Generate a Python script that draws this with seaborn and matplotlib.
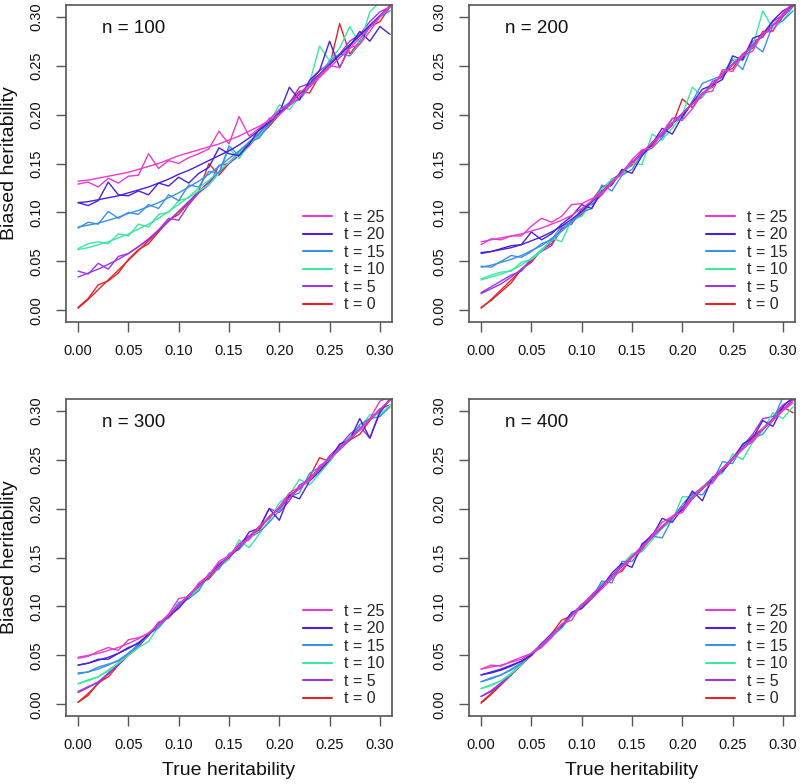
import matplotlib
matplotlib.use("Agg")
import matplotlib.pyplot as plt
from matplotlib.lines import Line2D
import seaborn as sns
import pandas as pd

sns.set_style("ticks")
plt.rcParams["font.family"] = ["Liberation Sans", "DejaVu Sans"]

# ---------------- data ----------------
x_true = [0.00, 0.01, 0.02, 0.03, 0.04, 0.05, 0.06, 0.07, 0.08, 0.09,
          0.10, 0.11, 0.12, 0.13, 0.14, 0.15, 0.16, 0.17, 0.18, 0.19,
          0.20, 0.21, 0.22, 0.23, 0.24, 0.25, 0.26, 0.27, 0.28, 0.29,
          0.30, 0.31]
t_values = [25, 20, 15, 10, 5, 0]
n_values = [100, 200, 300, 400]
t_colors = {25: "#E83ACB", 20: "#4B1FD6", 15: "#3A8FE8",
            10: "#3BE8A0", 5: "#9B35E6", 0: "#E0262B"}
tick_vals = [0.00, 0.05, 0.10, 0.15, 0.20, 0.25, 0.30]
tick_labels = ["0.00", "0.05", "0.10", "0.15", "0.20", "0.25", "0.30"]

# smooth (expected) curves
smooth_t0 = [0.002, 0.011, 0.021, 0.031, 0.041, 0.051, 0.061, 0.071, 0.081, 0.091,
             0.101, 0.111, 0.121, 0.131, 0.141, 0.151, 0.161, 0.171, 0.181, 0.191,
             0.201, 0.211, 0.221, 0.231, 0.241, 0.251, 0.261, 0.271, 0.281, 0.291, 0.301, 0.311]

smooth_n100_t25 = [0.132, 0.133, 0.135, 0.137, 0.139, 0.141, 0.144, 0.147, 0.150, 0.154,
                   0.158, 0.161, 0.164, 0.167, 0.170, 0.174, 0.178, 0.183, 0.188, 0.194,
                   0.200, 0.209, 0.218, 0.228, 0.238, 0.248, 0.258, 0.268, 0.278, 0.289, 0.300, 0.310]
smooth_n100_t20 = [0.110, 0.111, 0.113, 0.115, 0.117, 0.120, 0.123, 0.126, 0.130, 0.134,
                   0.139, 0.143, 0.148, 0.153, 0.158, 0.163, 0.169, 0.176, 0.184, 0.192,
                   0.201, 0.211, 0.221, 0.231, 0.241, 0.251, 0.261, 0.271, 0.281, 0.291, 0.301, 0.311]
smooth_n100_t15 = [0.085, 0.087, 0.089, 0.092, 0.095, 0.099, 0.102, 0.106, 0.110, 0.115,
                   0.120, 0.126, 0.132, 0.139, 0.147, 0.155, 0.163, 0.172, 0.181, 0.191,
                   0.201, 0.211, 0.221, 0.231, 0.241, 0.251, 0.261, 0.271, 0.281, 0.291, 0.301, 0.311]
smooth_n100_t10 = [0.062, 0.064, 0.067, 0.070, 0.074, 0.078, 0.083, 0.088, 0.094, 0.101,
                   0.108, 0.116, 0.125, 0.133, 0.142, 0.151, 0.161, 0.171, 0.181, 0.191,
                   0.201, 0.211, 0.221, 0.231, 0.241, 0.251, 0.261, 0.271, 0.281, 0.291, 0.301, 0.311]
smooth_n100_t5 = [0.034, 0.038, 0.042, 0.047, 0.052, 0.058, 0.065, 0.073, 0.082, 0.091,
                  0.101, 0.111, 0.121, 0.131, 0.141, 0.151, 0.161, 0.171, 0.181, 0.191,
                  0.201, 0.211, 0.221, 0.231, 0.241, 0.251, 0.261, 0.271, 0.281, 0.291, 0.301, 0.311]

smooth_n200_t25 = [0.070, 0.072, 0.074, 0.076, 0.078, 0.081, 0.084, 0.088, 0.092, 0.097,
                   0.104, 0.112, 0.121, 0.131, 0.141, 0.151, 0.161, 0.171, 0.181, 0.191,
                   0.201, 0.211, 0.221, 0.231, 0.241, 0.251, 0.261, 0.271, 0.281, 0.291, 0.301, 0.311]
smooth_n200_t20 = [0.058, 0.060, 0.062, 0.064, 0.067, 0.071, 0.075, 0.080, 0.086, 0.093,
                   0.101, 0.111, 0.121, 0.131, 0.141, 0.151, 0.161, 0.171, 0.181, 0.191,
                   0.201, 0.211, 0.221, 0.231, 0.241, 0.251, 0.261, 0.271, 0.281, 0.291, 0.301, 0.311]
smooth_n200_t15 = [0.044, 0.046, 0.049, 0.052, 0.056, 0.061, 0.066, 0.073, 0.081, 0.091,
                   0.101, 0.111, 0.121, 0.131, 0.141, 0.151, 0.161, 0.171, 0.181, 0.191,
                   0.201, 0.211, 0.221, 0.231, 0.241, 0.251, 0.261, 0.271, 0.281, 0.291, 0.301, 0.311]
smooth_n200_t10 = [0.031, 0.034, 0.037, 0.041, 0.046, 0.053, 0.062, 0.071, 0.081, 0.091,
                   0.101, 0.111, 0.121, 0.131, 0.141, 0.151, 0.161, 0.171, 0.181, 0.191,
                   0.201, 0.211, 0.221, 0.231, 0.241, 0.251, 0.261, 0.271, 0.281, 0.291, 0.301, 0.311]
smooth_n200_t5 = [0.017, 0.022, 0.027, 0.034, 0.042, 0.051, 0.061, 0.071, 0.081, 0.091,
                  0.101, 0.111, 0.121, 0.131, 0.141, 0.151, 0.161, 0.171, 0.181, 0.191,
                  0.201, 0.211, 0.221, 0.231, 0.241, 0.251, 0.261, 0.271, 0.281, 0.291, 0.301, 0.311]

smooth_n300_t25 = [0.048, 0.050, 0.052, 0.055, 0.058, 0.062, 0.067, 0.073, 0.081, 0.091,
                   0.101, 0.111, 0.121, 0.131, 0.141, 0.151, 0.161, 0.171, 0.181, 0.191,
                   0.201, 0.211, 0.221, 0.231, 0.241, 0.251, 0.261, 0.271, 0.281, 0.291, 0.301, 0.311]
smooth_n300_t20 = [0.040, 0.042, 0.045, 0.048, 0.052, 0.057, 0.063, 0.071, 0.081, 0.091,
                   0.101, 0.111, 0.121, 0.131, 0.141, 0.151, 0.161, 0.171, 0.181, 0.191,
                   0.201, 0.211, 0.221, 0.231, 0.241, 0.251, 0.261, 0.271, 0.281, 0.291, 0.301, 0.311]
smooth_n300_t15 = [0.031, 0.033, 0.036, 0.040, 0.045, 0.052, 0.061, 0.071, 0.081, 0.091,
                   0.101, 0.111, 0.121, 0.131, 0.141, 0.151, 0.161, 0.171, 0.181, 0.191,
                   0.201, 0.211, 0.221, 0.231, 0.241, 0.251, 0.261, 0.271, 0.281, 0.291, 0.301, 0.311]
smooth_n300_t10 = [0.021, 0.024, 0.028, 0.034, 0.042, 0.051, 0.061, 0.071, 0.081, 0.091,
                   0.101, 0.111, 0.121, 0.131, 0.141, 0.151, 0.161, 0.171, 0.181, 0.191,
                   0.201, 0.211, 0.221, 0.231, 0.241, 0.251, 0.261, 0.271, 0.281, 0.291, 0.301, 0.311]
smooth_n300_t5 = [0.012, 0.017, 0.023, 0.031, 0.041, 0.051, 0.061, 0.071, 0.081, 0.091,
                  0.101, 0.111, 0.121, 0.131, 0.141, 0.151, 0.161, 0.171, 0.181, 0.191,
                  0.201, 0.211, 0.221, 0.231, 0.241, 0.251, 0.261, 0.271, 0.281, 0.291, 0.301, 0.311]

smooth_n400_t25 = [0.036, 0.038, 0.040, 0.043, 0.046, 0.052, 0.061, 0.071, 0.081, 0.091,
                   0.101, 0.111, 0.121, 0.131, 0.141, 0.151, 0.161, 0.171, 0.181, 0.191,
                   0.201, 0.211, 0.221, 0.231, 0.241, 0.251, 0.261, 0.271, 0.281, 0.291, 0.301, 0.311]
smooth_n400_t20 = [0.030, 0.032, 0.035, 0.039, 0.044, 0.051, 0.061, 0.071, 0.081, 0.091,
                   0.101, 0.111, 0.121, 0.131, 0.141, 0.151, 0.161, 0.171, 0.181, 0.191,
                   0.201, 0.211, 0.221, 0.231, 0.241, 0.251, 0.261, 0.271, 0.281, 0.291, 0.301, 0.311]
smooth_n400_t15 = [0.023, 0.026, 0.030, 0.035, 0.042, 0.051, 0.061, 0.071, 0.081, 0.091,
                   0.101, 0.111, 0.121, 0.131, 0.141, 0.151, 0.161, 0.171, 0.181, 0.191,
                   0.201, 0.211, 0.221, 0.231, 0.241, 0.251, 0.261, 0.271, 0.281, 0.291, 0.301, 0.311]
smooth_n400_t10 = [0.016, 0.019, 0.024, 0.031, 0.041, 0.051, 0.061, 0.071, 0.081, 0.091,
                   0.101, 0.111, 0.121, 0.131, 0.141, 0.151, 0.161, 0.171, 0.181, 0.191,
                   0.201, 0.211, 0.221, 0.231, 0.241, 0.251, 0.261, 0.271, 0.281, 0.291, 0.301, 0.311]
smooth_n400_t5 = [0.008, 0.013, 0.021, 0.031, 0.041, 0.051, 0.061, 0.071, 0.081, 0.091,
                  0.101, 0.111, 0.121, 0.131, 0.141, 0.151, 0.161, 0.171, 0.181, 0.191,
                  0.201, 0.211, 0.221, 0.231, 0.241, 0.251, 0.261, 0.271, 0.281, 0.291, 0.301, 0.311]

# simulated (noisy) estimates
sim_n100_t0 = [0.003, 0.012, 0.026, 0.030, 0.038, 0.052, 0.062, 0.068, 0.080, 0.092,
               0.098, 0.110, 0.122, 0.150, 0.138, 0.150, 0.162, 0.170, 0.178, 0.188,
               0.200, 0.212, 0.224, 0.222, 0.240, 0.250, 0.293, 0.262, 0.275, 0.290, 0.295, 0.310]
sim_n100_t5 = [0.040, 0.037, 0.048, 0.042, 0.055, 0.058, 0.065, 0.072, 0.082, 0.094,
               0.092, 0.108, 0.120, 0.128, 0.148, 0.150, 0.158, 0.168, 0.180, 0.196,
               0.200, 0.212, 0.228, 0.232, 0.245, 0.252, 0.262, 0.275, 0.282, 0.295, 0.305, 0.310]
sim_n100_t10 = [0.063, 0.068, 0.070, 0.068, 0.078, 0.076, 0.088, 0.085, 0.098, 0.100,
                0.112, 0.115, 0.122, 0.128, 0.140, 0.165, 0.155, 0.170, 0.178, 0.192,
                0.210, 0.205, 0.218, 0.232, 0.270, 0.255, 0.268, 0.290, 0.272, 0.305, 0.315, 0.312]
sim_n100_t15 = [0.084, 0.090, 0.088, 0.101, 0.094, 0.100, 0.098, 0.108, 0.104, 0.118,
                0.112, 0.128, 0.126, 0.142, 0.140, 0.168, 0.158, 0.172, 0.176, 0.190,
                0.205, 0.212, 0.215, 0.228, 0.240, 0.255, 0.262, 0.260, 0.272, 0.290, 0.300, 0.306]
sim_n100_t20 = [0.110, 0.107, 0.112, 0.131, 0.118, 0.117, 0.122, 0.118, 0.130, 0.127,
                0.136, 0.130, 0.140, 0.146, 0.166, 0.160, 0.158, 0.170, 0.185, 0.192,
                0.202, 0.228, 0.215, 0.235, 0.245, 0.275, 0.248, 0.270, 0.285, 0.275, 0.290, 0.282]
sim_n100_t25 = [0.129, 0.131, 0.126, 0.135, 0.130, 0.137, 0.138, 0.160, 0.145, 0.153,
                0.150, 0.156, 0.160, 0.165, 0.183, 0.170, 0.198, 0.178, 0.186, 0.195,
                0.205, 0.210, 0.222, 0.230, 0.240, 0.250, 0.248, 0.268, 0.272, 0.285, 0.300, 0.312]

sim_n200_t0 = [0.003, 0.010, 0.019, 0.028, 0.042, 0.049, 0.062, 0.068, 0.082, 0.090,
               0.098, 0.112, 0.126, 0.129, 0.142, 0.148, 0.163, 0.168, 0.180, 0.189,
               0.216, 0.207, 0.222, 0.228, 0.244, 0.247, 0.262, 0.268, 0.285, 0.286, 0.300, 0.312]
sim_n200_t5 = [0.018, 0.024, 0.030, 0.036, 0.040, 0.053, 0.060, 0.066, 0.084, 0.088,
               0.104, 0.108, 0.118, 0.134, 0.140, 0.152, 0.158, 0.172, 0.178, 0.196,
               0.198, 0.212, 0.218, 0.234, 0.238, 0.252, 0.258, 0.275, 0.279, 0.295, 0.302, 0.313]
sim_n200_t10 = [0.032, 0.036, 0.039, 0.040, 0.049, 0.052, 0.060, 0.074, 0.070, 0.092,
                0.096, 0.110, 0.124, 0.134, 0.138, 0.150, 0.149, 0.180, 0.174, 0.186,
                0.200, 0.228, 0.218, 0.230, 0.242, 0.257, 0.255, 0.270, 0.306, 0.288, 0.296, 0.310]
sim_n200_t15 = [0.045, 0.044, 0.050, 0.056, 0.054, 0.060, 0.068, 0.072, 0.086, 0.090,
                0.100, 0.104, 0.128, 0.122, 0.138, 0.144, 0.160, 0.166, 0.176, 0.192,
                0.196, 0.214, 0.232, 0.236, 0.240, 0.256, 0.246, 0.272, 0.264, 0.292, 0.296, 0.306]
sim_n200_t20 = [0.059, 0.060, 0.063, 0.066, 0.067, 0.080, 0.072, 0.078, 0.088, 0.096,
                0.108, 0.104, 0.122, 0.128, 0.144, 0.140, 0.158, 0.170, 0.186, 0.180,
                0.198, 0.212, 0.226, 0.230, 0.236, 0.260, 0.256, 0.278, 0.282, 0.296, 0.306, 0.312]
sim_n200_t25 = [0.067, 0.073, 0.072, 0.076, 0.076, 0.086, 0.094, 0.090, 0.096, 0.108,
                0.109, 0.114, 0.118, 0.130, 0.140, 0.154, 0.164, 0.166, 0.182, 0.196,
                0.194, 0.206, 0.222, 0.224, 0.246, 0.244, 0.260, 0.265, 0.284, 0.285, 0.304, 0.314]

sim_n300_t0 = [0.002, 0.009, 0.022, 0.028, 0.040, 0.050, 0.058, 0.072, 0.080, 0.092,
               0.100, 0.111, 0.122, 0.128, 0.140, 0.152, 0.160, 0.172, 0.178, 0.192,
               0.200, 0.214, 0.220, 0.232, 0.252, 0.248, 0.262, 0.270, 0.276, 0.290, 0.302, 0.306]
sim_n300_t5 = [0.013, 0.018, 0.022, 0.032, 0.040, 0.052, 0.060, 0.070, 0.084, 0.088,
               0.100, 0.112, 0.120, 0.132, 0.144, 0.150, 0.164, 0.172, 0.180, 0.200,
               0.196, 0.208, 0.224, 0.230, 0.240, 0.254, 0.264, 0.276, 0.284, 0.272, 0.300, 0.312]
sim_n300_t10 = [0.021, 0.025, 0.028, 0.035, 0.042, 0.050, 0.058, 0.064, 0.080, 0.092,
                0.102, 0.108, 0.118, 0.130, 0.140, 0.148, 0.168, 0.160, 0.174, 0.188,
                0.206, 0.214, 0.230, 0.224, 0.236, 0.248, 0.262, 0.274, 0.282, 0.296, 0.296, 0.306]
sim_n300_t15 = [0.032, 0.033, 0.038, 0.041, 0.044, 0.052, 0.060, 0.072, 0.078, 0.090,
                0.104, 0.108, 0.116, 0.134, 0.138, 0.154, 0.158, 0.170, 0.176, 0.186,
                0.198, 0.212, 0.216, 0.236, 0.242, 0.252, 0.260, 0.270, 0.286, 0.292, 0.294, 0.304]
sim_n300_t20 = [0.040, 0.042, 0.046, 0.046, 0.052, 0.058, 0.062, 0.072, 0.082, 0.090,
                0.098, 0.110, 0.122, 0.130, 0.142, 0.150, 0.160, 0.176, 0.180, 0.200,
                0.188, 0.214, 0.210, 0.228, 0.238, 0.250, 0.266, 0.270, 0.292, 0.272, 0.298, 0.312]
sim_n300_t25 = [0.047, 0.049, 0.054, 0.058, 0.055, 0.066, 0.068, 0.072, 0.082, 0.092,
                0.108, 0.110, 0.124, 0.132, 0.146, 0.152, 0.164, 0.168, 0.182, 0.190,
                0.202, 0.216, 0.222, 0.228, 0.244, 0.250, 0.262, 0.272, 0.280, 0.292, 0.310, 0.314]

sim_n400_t0 = [0.001, 0.010, 0.020, 0.030, 0.040, 0.050, 0.060, 0.072, 0.086, 0.090,
               0.102, 0.110, 0.120, 0.132, 0.136, 0.150, 0.160, 0.170, 0.182, 0.190,
               0.200, 0.210, 0.220, 0.230, 0.240, 0.252, 0.262, 0.274, 0.282, 0.292, 0.304, 0.298]
sim_n400_t5 = [0.008, 0.014, 0.022, 0.030, 0.042, 0.050, 0.062, 0.070, 0.080, 0.092,
               0.098, 0.112, 0.122, 0.130, 0.142, 0.150, 0.162, 0.174, 0.180, 0.192,
               0.198, 0.214, 0.222, 0.228, 0.240, 0.252, 0.264, 0.276, 0.292, 0.294, 0.306, 0.312]
sim_n400_t10 = [0.016, 0.020, 0.024, 0.032, 0.040, 0.052, 0.062, 0.068, 0.078, 0.090,
                0.100, 0.110, 0.124, 0.128, 0.142, 0.154, 0.156, 0.168, 0.180, 0.188,
                0.212, 0.212, 0.222, 0.232, 0.236, 0.256, 0.250, 0.268, 0.280, 0.298, 0.292, 0.304]
sim_n400_t15 = [0.023, 0.027, 0.030, 0.036, 0.042, 0.052, 0.058, 0.070, 0.078, 0.092,
                0.102, 0.108, 0.126, 0.124, 0.146, 0.146, 0.158, 0.172, 0.170, 0.190,
                0.204, 0.216, 0.214, 0.228, 0.248, 0.246, 0.264, 0.272, 0.276, 0.290, 0.314, 0.312]
sim_n400_t20 = [0.030, 0.033, 0.036, 0.040, 0.044, 0.050, 0.062, 0.072, 0.080, 0.094,
                0.098, 0.108, 0.120, 0.134, 0.144, 0.140, 0.164, 0.172, 0.190, 0.186,
                0.200, 0.218, 0.208, 0.232, 0.238, 0.250, 0.266, 0.272, 0.290, 0.284, 0.304, 0.314]
sim_n400_t25 = [0.036, 0.040, 0.039, 0.044, 0.048, 0.052, 0.058, 0.068, 0.082, 0.086,
                0.102, 0.108, 0.118, 0.128, 0.138, 0.150, 0.158, 0.172, 0.186, 0.192,
                0.196, 0.210, 0.222, 0.226, 0.240, 0.250, 0.262, 0.268, 0.282, 0.290, 0.300, 0.308]

sim = {
    100: {0: sim_n100_t0, 5: sim_n100_t5, 10: sim_n100_t10, 15: sim_n100_t15, 20: sim_n100_t20, 25: sim_n100_t25},
    200: {0: sim_n200_t0, 5: sim_n200_t5, 10: sim_n200_t10, 15: sim_n200_t15, 20: sim_n200_t20, 25: sim_n200_t25},
    300: {0: sim_n300_t0, 5: sim_n300_t5, 10: sim_n300_t10, 15: sim_n300_t15, 20: sim_n300_t20, 25: sim_n300_t25},
    400: {0: sim_n400_t0, 5: sim_n400_t5, 10: sim_n400_t10, 15: sim_n400_t15, 20: sim_n400_t20, 25: sim_n400_t25},
}
smooth = {
    100: {0: smooth_t0, 5: smooth_n100_t5, 10: smooth_n100_t10, 15: smooth_n100_t15, 20: smooth_n100_t20, 25: smooth_n100_t25},
    200: {0: smooth_t0, 5: smooth_n200_t5, 10: smooth_n200_t10, 15: smooth_n200_t15, 20: smooth_n200_t20, 25: smooth_n200_t25},
    300: {0: smooth_t0, 5: smooth_n300_t5, 10: smooth_n300_t10, 15: smooth_n300_t15, 20: smooth_n300_t20, 25: smooth_n300_t25},
    400: {0: smooth_t0, 5: smooth_n400_t5, 10: smooth_n400_t10, 15: smooth_n400_t15, 20: smooth_n400_t20, 25: smooth_n400_t25},
}

for n in n_values:
    for t in t_values:
        assert len(sim[n][t]) == len(x_true), (n, t, len(sim[n][t]))
        assert len(smooth[n][t]) == len(x_true), (n, t, len(smooth[n][t]))

# ---------------- figure ----------------
W, H = 800, 784
fig = plt.figure(figsize=(W / 100, H / 100), dpi=100)
panel_px = {100: (66, 5), 200: (469, 5), 300: (66, 399), 400: (469, 399)}
pw, ph = 326, 317

for n in n_values:
    lx, ty = panel_px[n]
    ax = fig.add_axes([lx / W, 1 - (ty + ph) / H, pw / W, ph / H])
    rows = []
    for t in [0, 5, 10, 15, 20, 25]:
        for xv, yv in zip(x_true, sim[n][t]):
            rows.append({"x": xv, "y": yv, "t": t, "kind": "sim"})
        for xv, yv in zip(x_true, smooth[n][t]):
            rows.append({"x": xv, "y": yv, "t": t, "kind": "smooth"})
    df = pd.DataFrame(rows)
    for t in [0, 5, 10, 15, 20, 25]:
        for kind in ["sim", "smooth"]:
            d = df[(df.t == t) & (df.kind == kind)]
            sns.lineplot(data=d, x="x", y="y", color=t_colors[t], lw=1.0,
                         ax=ax, legend=False, sort=False, estimator=None)

    ax.set_xlim(-0.012, 0.312)
    ax.set_ylim(-0.012, 0.312)
    ax.set_xticks(tick_vals)
    ax.set_xticklabels(tick_labels)
    ax.set_yticks(tick_vals)
    ax.set_yticklabels(tick_labels, rotation=90, va="center")
    ax.tick_params(axis="both", direction="out", length=7, width=1.0,
                   color="#555555", labelsize=10.5, labelcolor="#111111", pad=9)
    for sp in ax.spines.values():
        sp.set_visible(True)
        sp.set_color("#555555")
        sp.set_linewidth(1.2)

    if n in (100, 300):
        ax.set_ylabel("Biased heritability", fontsize=14, color="#111111")
        ax.yaxis.label.set_verticalalignment("center")
        ax.yaxis.set_label_coords(-0.172, 0.5)
    else:
        ax.set_ylabel("")
    if n in (300, 400):
        ax.set_xlabel("True heritability", fontsize=14, color="#111111")
        ax.xaxis.label.set_verticalalignment("center")
        ax.xaxis.set_label_coords(0.5, -0.1735)
    else:
        ax.set_xlabel("")

    ax.text(0.055, 0.288, f"n = {n}", fontsize=13.5, ha="center", va="center",
            color="#111111")

    handles = [Line2D([0], [0], color=t_colors[t], lw=1.5) for t in t_values]
    labels = [f"t = {t}" for t in t_values]
    ax.legend(handles, labels, loc="lower right", bbox_to_anchor=(1.0, 0.005),
              frameon=False, fontsize=11.5, handlelength=1.8, handletextpad=0.75,
              labelspacing=0.16, borderpad=0.2, borderaxespad=0.3)

fig.savefig("out.png", dpi=100)
